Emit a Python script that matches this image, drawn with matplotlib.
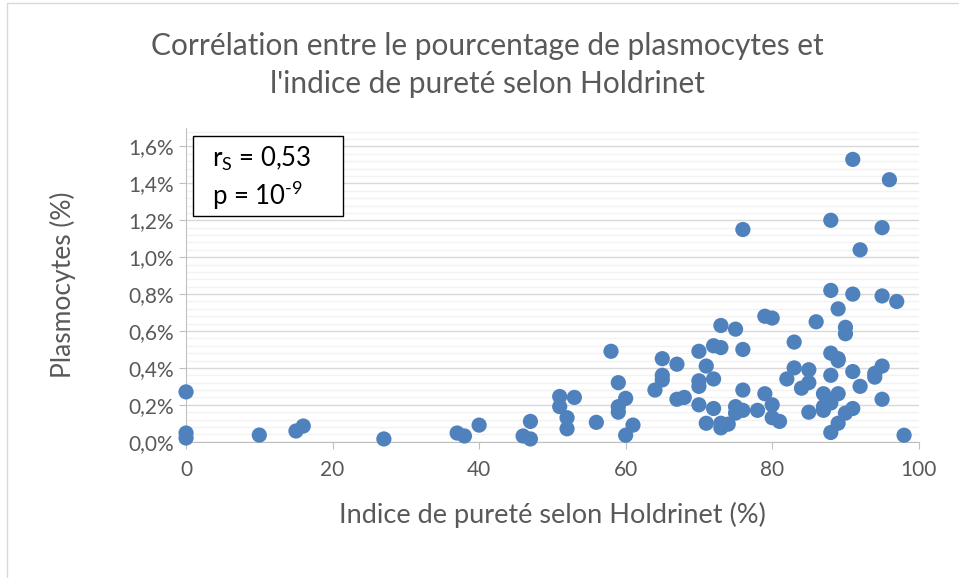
import matplotlib

matplotlib.use("Agg")
import matplotlib.pyplot as plt
from matplotlib.patches import Rectangle
from matplotlib.ticker import MultipleLocator, FuncFormatter

plt.rcParams["font.family"] = ["Lato", "DejaVu Sans"]
plt.rcParams["mathtext.fontset"] = "custom"
plt.rcParams["mathtext.rm"] = "Lato"

# Holdrinet purity index (%) and plasmocytes (%)
purete = [0, 0, 0, 10, 15, 16, 27, 37, 38, 40, 46, 47, 47,
          51, 51, 52, 52, 53, 56, 58, 59, 59, 59, 60, 60, 61,
          64, 65, 65, 65, 67, 67, 68, 70, 70, 70, 70, 71, 71,
          72, 72, 72, 73, 73, 73, 73, 74, 75, 75, 75, 76, 76, 76, 76,
          78, 79, 80, 79, 80, 80, 81, 82, 83, 83, 84, 85, 85, 85,
          86, 87, 87, 87, 88, 88, 88, 88, 88, 88, 89, 89, 89, 89, 89,
          90, 90, 90, 91, 91, 91, 91, 92, 92, 94, 94, 95, 95, 95, 95,
          96, 97, 98]
plasmo = [0.27, 0.047, 0.02, 0.036, 0.058, 0.085, 0.015, 0.047, 0.031, 0.09, 0.031, 0.015, 0.11,
          0.245, 0.19, 0.13, 0.07, 0.24, 0.105, 0.49, 0.32, 0.19, 0.16, 0.035, 0.235, 0.09,
          0.28, 0.45, 0.36, 0.335, 0.42, 0.23, 0.24, 0.49, 0.33, 0.30, 0.20, 0.41, 0.10,
          0.52, 0.34, 0.18, 0.63, 0.51, 0.10, 0.075, 0.095, 0.61, 0.19, 0.155, 1.15, 0.50, 0.28, 0.17,
          0.17, 0.68, 0.67, 0.26, 0.20, 0.13, 0.11, 0.34, 0.54, 0.40, 0.29, 0.39, 0.32, 0.16,
          0.65, 0.26, 0.19, 0.17, 1.20, 0.82, 0.48, 0.36, 0.21, 0.05, 0.72, 0.45, 0.44, 0.26, 0.10,
          0.62, 0.585, 0.155, 1.53, 0.80, 0.38, 0.18, 1.04, 0.30, 0.37, 0.35, 1.16, 0.79, 0.41, 0.23,
          1.42, 0.76, 0.035]

titre = "Corrélation entre le pourcentage de plasmocytes et\nl'indice de pureté selon Holdrinet"
label_x = "Indice de pureté selon Holdrinet (%)"
label_y = "Plasmocytes (%)"
ligne_r = "$\\mathregular{r_S}$ = 0,53"
ligne_p = "p = 10$^{\\text{-9}}$"

grey_txt = "#595959"

fig = plt.figure(figsize=(9.59, 5.78), dpi=100)
fig.patches.append(Rectangle((0.007, -0.01), 1.2, 1.005, transform=fig.transFigure,
                             fill=False, edgecolor="#D9D9D9", lw=1.0))
ax = fig.add_axes([0.194, 0.2358, 0.764, 0.5427])

ax.scatter(purete, plasmo, s=120, color="#4F81BD", edgecolors="none", zorder=3, clip_on=False)

ax.set_xlim(0, 100)
ax.set_ylim(0, 1.7)
ax.xaxis.set_major_locator(MultipleLocator(20))
ax.yaxis.set_major_locator(MultipleLocator(0.2))
ax.yaxis.set_minor_locator(MultipleLocator(0.04))
ax.yaxis.set_major_formatter(FuncFormatter(lambda v, p: f"{v:.1f}%".replace(".", ",")))

ax.grid(axis="y", which="major", color="#D9D9D9", lw=1.0, zorder=1)
ax.grid(axis="y", which="minor", color="#F2F2F2", lw=1.0, zorder=0)
ax.set_axisbelow(True)
for side in ["top", "right"]:
    ax.spines[side].set_visible(False)
for side in ["left", "bottom"]:
    ax.spines[side].set_color("#BFBFBF")
ax.tick_params(axis="both", which="major", colors="#BFBFBF", labelcolor=grey_txt,
               labelsize=15, length=5)
ax.tick_params(axis="y", which="minor", length=0)
ax.tick_params(axis="x", pad=8)

ax.set_xlabel(label_x, fontsize=19.5, color=grey_txt, labelpad=16)
ax.set_ylabel(label_y, fontsize=19, color=grey_txt, labelpad=38)
fig.suptitle(titre, fontsize=21.5, color=grey_txt, x=0.508, y=0.945, linespacing=1.45)

# stats box
ax.add_patch(Rectangle((0.0095, 0.7195), 0.2045, 0.255, transform=ax.transAxes,
                       facecolor="white", edgecolor="black", lw=1.0, zorder=5))
ax.text(0.036, 0.902, ligne_r, transform=ax.transAxes, fontsize=18.5, va="center",
        ha="left", color="black", zorder=6)
ax.text(0.036, 0.787, ligne_p, transform=ax.transAxes, fontsize=18.5, va="center",
        ha="left", color="black", zorder=6)

fig.savefig("out.png", dpi=100)
